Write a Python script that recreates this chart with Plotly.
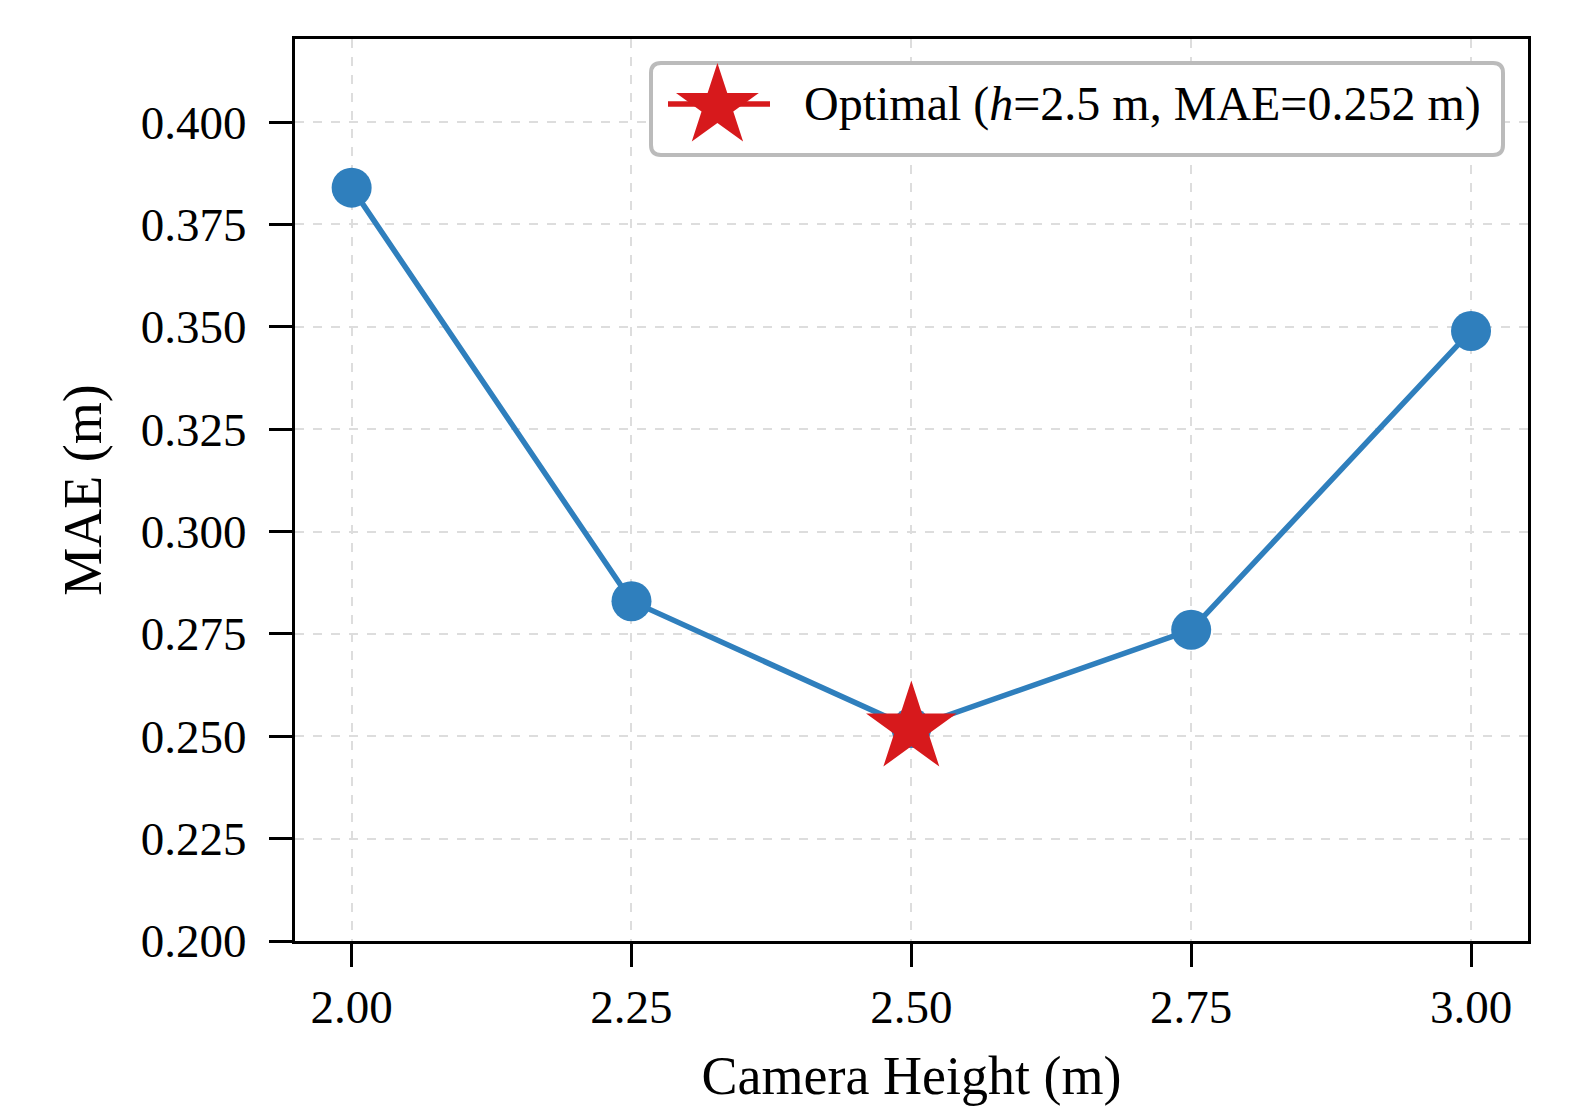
import plotly.graph_objects as go

heights = [2.00, 2.25, 2.50, 2.75, 3.00]
mae = [0.384, 0.283, 0.252, 0.276, 0.349]
opt_h = [2.50]
opt_mae = [0.252]
x_ticks = [2.00, 2.25, 2.50, 2.75, 3.00]
x_tick_labels = ["2.00", "2.25", "2.50", "2.75", "3.00"]
y_ticks = [0.200, 0.225, 0.250, 0.275, 0.300, 0.325, 0.350, 0.375, 0.400]
y_tick_labels = ["0.200", "0.225", "0.250", "0.275", "0.300", "0.325", "0.350", "0.375", "0.400"]
legend_label = "Optimal (<i>h</i>=2.5 m, MAE=0.252 m)"

BLUE = "#2f7fbd"
RED = "#d7191c"
FONT = "Liberation Serif"

# page body has an 8px default margin; work in viewport pixels and convert
OFF = 8
W, H = 1579 - OFF, 1106 - OFF
VL, VR, VT, VB = 295, 1528, 39, 941  # plot area in viewport pixels
L, T = VL - OFF, VT - OFF
R = W - (VR - OFF)
B = H - (VB - OFF)
pw, ph = W - L - R, H - T - B

def px(x):
    return (x - OFF - L) / pw

def py(y):
    return (H - B - (y - OFF)) / ph

fig = go.Figure()
fig.add_trace(go.Scatter(
    x=heights, y=mae, mode="lines+markers",
    line=dict(color=BLUE, width=5.5),
    marker=dict(color=BLUE, size=40, line=dict(width=0)),
    showlegend=False, hoverinfo="skip",
))
fig.add_trace(go.Scatter(
    x=opt_h, y=opt_mae, mode="markers",
    marker=dict(color=RED, size=68, symbol="star", line=dict(width=0)),
    showlegend=False, hoverinfo="skip",
))

# manual legend box (rounded)
x0, x1, y0, y1 = px(651), px(1503), py(155), py(63)
rx = 10 / pw
ry = 10 / ph
path = (f"M {x0+rx},{y1} L {x1-rx},{y1} Q {x1},{y1} {x1},{y1-ry} "
        f"L {x1},{y0+ry} Q {x1},{y0} {x1-rx},{y0} L {x0+rx},{y0} "
        f"Q {x0},{y0} {x0},{y0+ry} L {x0},{y1-ry} Q {x0},{y1} {x0+rx},{y1} Z")
fig.add_shape(type="path", path=path, xref="paper", yref="paper",
              line=dict(color="#bbbbbb", width=4), fillcolor="white", layer="above")
fig.add_shape(type="line", xref="paper", yref="paper",
              x0=px(668), x1=px(770), y0=py(104), y1=py(104),
              line=dict(color=RED, width=5.5), layer="above")
fig.add_annotation(text="★", xref="paper", yref="paper", x=px(717), y=py(104),
                   showarrow=False, font=dict(family="DejaVu Sans", size=108, color=RED),
                   xanchor="center", yanchor="middle")
fig.add_annotation(text=legend_label, xref="paper", yref="paper", x=px(802), y=py(104),
                   showarrow=False, font=dict(family=FONT, size=48, color="black"),
                   xanchor="left", yanchor="middle")

axis_common = dict(
    showline=True, linecolor="black", linewidth=3, mirror=True,
    ticks="outside", ticklen=23, tickwidth=3, tickcolor="black",
    showgrid=True, gridcolor="#dddddd", gridwidth=2, griddash="dash",
    zeroline=False, tickfont=dict(family=FONT, size=47, color="black"),
    automargin=False,
)

fig.update_layout(
    width=W, height=H, paper_bgcolor="white", plot_bgcolor="white",
    margin=dict(l=L, r=R, t=T, b=B, pad=0),
    xaxis=dict(range=[1.9494, 3.0509], tickvals=x_ticks, ticktext=x_tick_labels,
               title=dict(text="Camera Height (m)", font=dict(family=FONT, size=54, color="black"), standoff=32),
               ticklabelstandoff=0, **axis_common),
    yaxis=dict(range=[0.200, 0.4203], tickvals=y_ticks, ticktext=y_tick_labels,
               title=dict(text="MAE (m)", font=dict(family=FONT, size=54, color="black"), standoff=22),
               ticklabelstandoff=13, **axis_common),
    showlegend=False,
)

fig.write_html("out.html")
